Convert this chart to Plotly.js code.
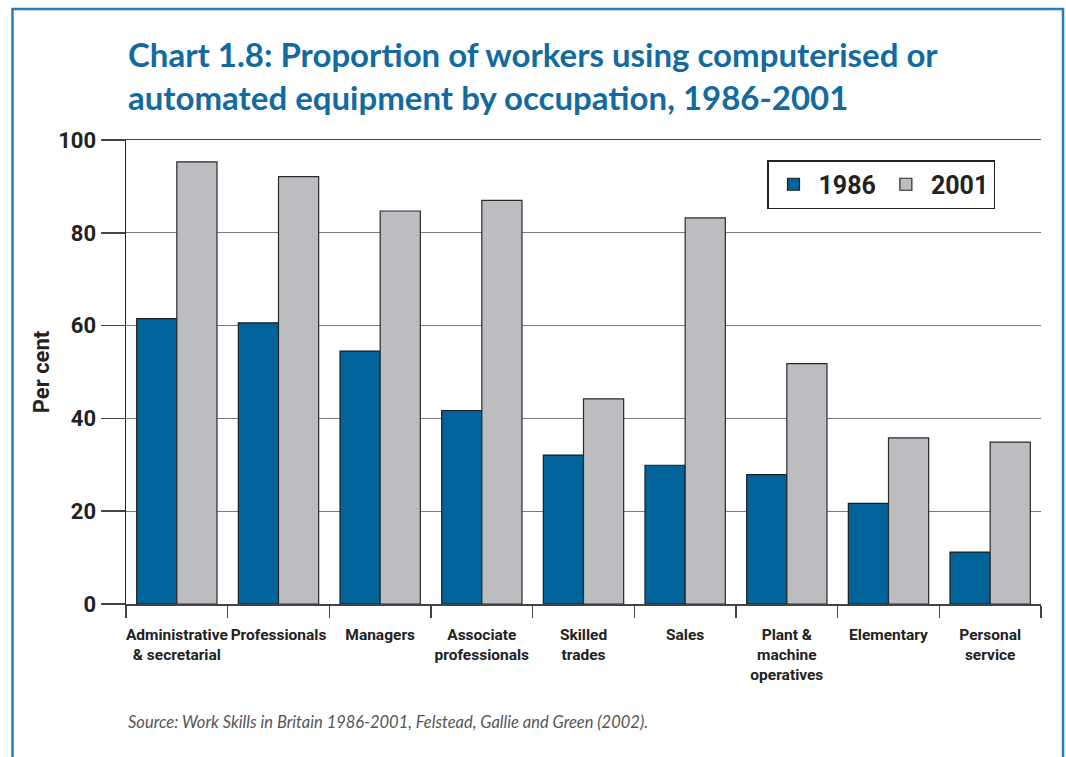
<!DOCTYPE html>
<html>
<head>
<meta charset="utf-8">
<script src="https://cdn.plot.ly/plotly-3.0.1.min.js"></script>
<style>
  html, body { margin: 0; padding: 0; background: #fff; }
  #chart { width: 1066px; height: 757px; }
</style>
</head>
<body>
<div id="chart"></div>
<script>
const categories = [
  "Administrative<br>& secretarial",
  "Professionals",
  "Managers",
  "Associate<br>professionals",
  "Skilled<br>trades",
  "Sales",
  "Plant &<br>machine<br>operatives",
  "Elementary",
  "Personal<br>service"
];
const values1986 = [61.5, 60.6, 54.5, 41.7, 32.1, 29.9, 27.9, 21.7, 11.2];
const values2001 = [95.3, 92.1, 84.7, 87.0, 44.2, 83.2, 51.8, 35.8, 34.9];
const seriesNames = ["1986", "2001"];
const yTicks = [0, 20, 40, 60, 80, 100];

const narrow = "Roboto, 'Liberation Sans', sans-serif";
const sans = "'Lato', 'Open Sans', 'Noto Sans', sans-serif";

const traces = [
  {
    type: "bar", name: seriesNames[0], x: categories, y: values1986,
    marker: { color: "#00639a", line: { color: "#1e1e1e", width: 1.2 } }
  },
  {
    type: "bar", name: seriesNames[1], x: categories, y: values2001,
    marker: { color: "#bcbdc0", line: { color: "#2a2a2a", width: 1.2 } }
  }
];

const L = 126, R = 1041, T = 140, B = 604;
const pw = R - L, ph = B - T;
const px = v => (v - L) / pw;
const py = v => (B - v) / ph;

const layout = {
  width: 1066, height: 757,
  margin: { l: L, r: 1066 - R, t: T, b: 757 - B, pad: 0 },
  paper_bgcolor: "#ffffff",
  plot_bgcolor: "#ffffff",
  barmode: "group",
  bargap: 0.21,
  bargroupgap: 0,
  showlegend: true,
  legend: {
    orientation: "h",
    x: px(767), xanchor: "left",
    y: py(160), yanchor: "top",
    bgcolor: "#ffffff",
    bordercolor: "#222",
    borderwidth: 1.5,
    font: { family: narrow, size: 25, color: "#222", weight: "bold" },
    itemwidth: 40,
    tracegroupgap: 0,
    traceorder: "normal"
  },
  xaxis: {
    type: "category",
    showline: true, linecolor: "#444", linewidth: 1.5,
    mirror: true,
    ticks: "outside", tickson: "boundaries", ticklen: 12, tickcolor: "#444", tickwidth: 1.5,
    tickangle: 0,
    ticklabelstandoff: 16,
    tickfont: { family: narrow, size: 15.5, color: "#222", weight: "bold" },
    showgrid: false,
    fixedrange: true
  },
  yaxis: {
    range: [0, 100],
    tickvals: yTicks,
    ticktext: yTicks.map(String),
    showline: true, linecolor: "#222", linewidth: 1.5,
    ticks: "outside", ticklen: 24, tickcolor: "#444", tickwidth: 1.5,
    tickfont: { family: narrow, size: 22, color: "#222", weight: "bold" },
    showgrid: true, gridcolor: "#7a7a7a", gridwidth: 1,
    zeroline: false,
    title: { text: "Per cent", font: { family: narrow, size: 22, color: "#222", weight: "bold" }, standoff: 2 },
    fixedrange: true
  },
  annotations: [
    {
      xref: "paper", yref: "paper",
      x: 0, y: py(32), xanchor: "left", yanchor: "top", align: "left",
      text: "<b>Chart 1.8: Proportion of workers using computerised or<br>automated equipment by occupation, 1986-2001</b>",
      showarrow: false,
      font: { family: sans, size: 33, color: "#136aa0" }
    },
    {
      xref: "paper", yref: "paper",
      x: 0, y: py(722), xanchor: "left", yanchor: "middle",
      text: "<i>Source: Work Skills in Britain 1986-2001, Felstead, Gallie and Green (2002).</i>",
      showarrow: false,
      font: { family: sans, size: 16.5, color: "#555" }
    }
  ],
  shapes: [
    {
      type: "rect", xref: "paper", yref: "paper",
      x0: px(12.5), x1: px(1063), y0: py(790), y1: py(9),
      line: { color: "#2a7cc0", width: 2.5 },
      fillcolor: "rgba(0,0,0,0)",
      layer: "below"
    }
  ]
};

Plotly.newPlot("chart", traces, layout, { displayModeBar: false, staticPlot: true });
</script>
</body>
</html>
